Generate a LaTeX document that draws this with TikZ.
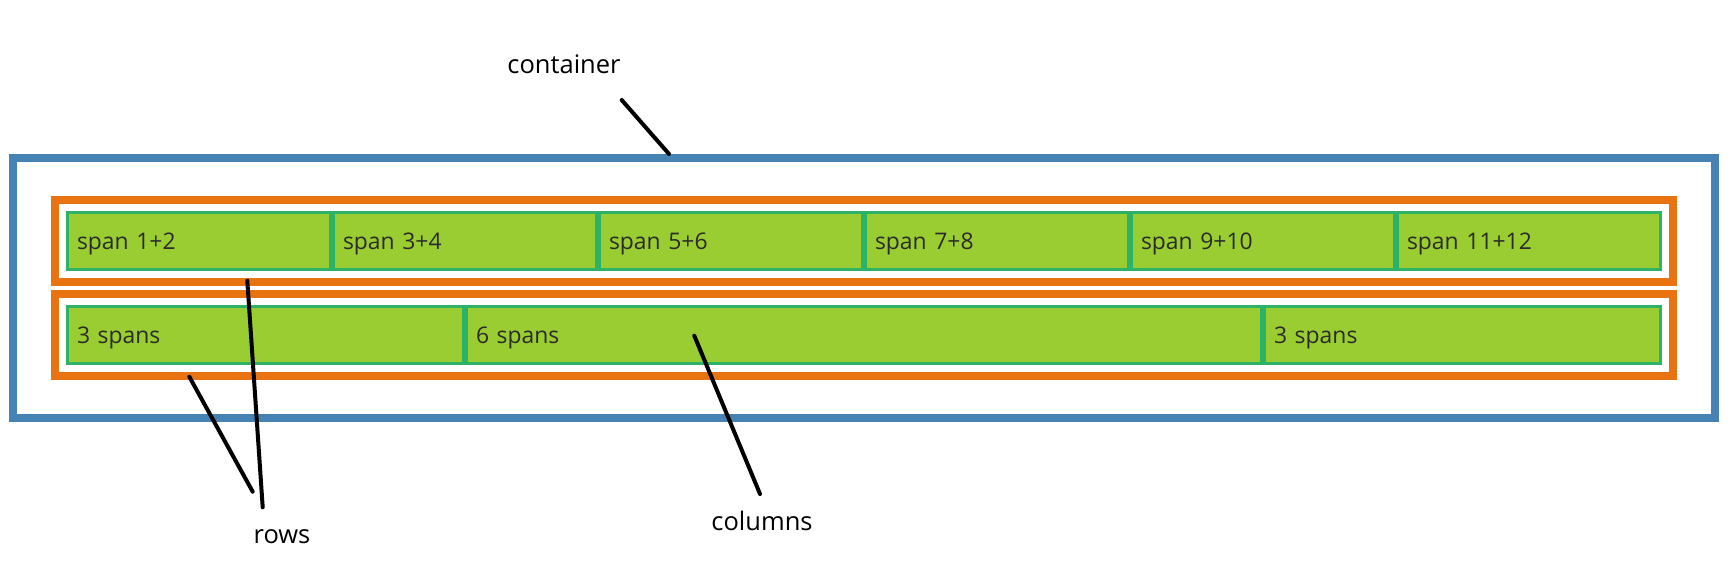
\documentclass[tikz,border=0pt]{standalone}
\usepackage{fontspec}
\setmainfont{Open Sans}
\definecolor{boxblue}{HTML}{4682B4}
\definecolor{roworange}{HTML}{E97311}
\definecolor{cellline}{HTML}{2EB267}
\definecolor{cellfill}{HTML}{9ACD32}
\definecolor{celltext}{HTML}{2B2B2B}
\tikzstyle{wrapbox}=[draw=boxblue, line width=4pt, minimum width=851pt, minimum height=130pt, inner sep=0pt]
\tikzstyle{rowbox}=[draw=roworange, line width=4pt, minimum width=809pt, minimum height=41pt, inner sep=0pt]
\tikzstyle{cell}=[draw=cellline, fill=cellfill, line width=1.5pt, minimum height=28.35pt, inner xsep=4.75pt, inner ysep=0pt, align=left, text height=8.2pt, text depth=0pt, text=celltext, font=\fontsize{11.45pt}{13pt}\selectfont]
\tikzstyle{twospan}=[cell, minimum width=131.5pt, text width=122pt]
\tikzstyle{threespan}=[cell, minimum width=198pt, text width=188.5pt]
\tikzstyle{sixspan}=[cell, minimum width=397.5pt, text width=388pt]
\tikzstyle{note}=[anchor=base, inner sep=0pt, font=\fontsize{12.75pt}{15pt}\selectfont]
\tikzstyle{pointer}=[line width=2pt, line cap=round]

\begin{document}
\begin{tikzpicture}[x=0.5pt, y=-0.5pt]
                    \useasboundingbox (0, 0) rectangle (1732, 588);
                    \node[wrapbox] (box) at (864, 288) {};
                    \node[rowbox] (row1) at (864, 241) {};
                    \node[rowbox] (row2) at (864, 335) {};
                    % first row
                    \node[twospan] (s12) at (199, 241) {span 1+2};
                    \node[twospan] (s34) at (465, 241) {span 3+4};
                    \node[twospan] (s56) at (731, 241) {span 5+6};
                    \node[twospan] (s78) at (997, 241) {span 7+8};
                    \node[twospan] (s910) at (1263, 241) {span 9+10};
                    \node[twospan] (s1112) at (1529, 241) {span 11+12};
                    % second row
                    \node[threespan] (left) at (265.5, 335) {3 spans};
                    \node[sixspan] (mid) at (864, 335) {6 spans};
                    \node[threespan] (right) at (1462.5, 335) {3 spans};
                    % labels
                    \node[note] (container) at (564, 74) {container};
                    \node[note] (rows) at (282, 543) {rows};
                    \node[note] (columns) at (762, 530) {columns};
                    \coordinate (c1) at (621.7, 100);
                    \coordinate (c2) at (669, 154);
                    \coordinate (ra1) at (247.3, 280.7);
                    \coordinate (ra2) at (262.7, 507.3);
                    \coordinate (rb1) at (189.3, 376.7);
                    \coordinate (rb2) at (252.7, 491.7);
                    \coordinate (k1) at (694.3, 335.7);
                    \coordinate (k2) at (760, 494);
                    \draw[pointer]
                        (c1) -- (c2)
                        (ra1) -- (ra2)
                        (rb1) -- (rb2)
                        (k1) -- (k2)
                    ;
                \end{tikzpicture}
\end{document}
